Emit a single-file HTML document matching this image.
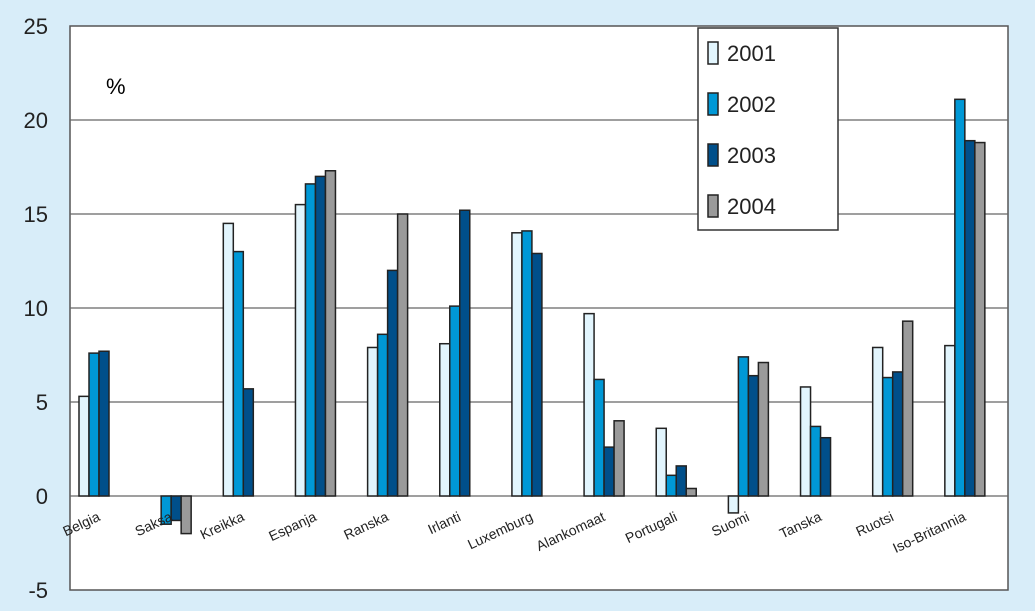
<!DOCTYPE html>
<html><head><meta charset="utf-8"><style>
body{margin:0;background:#d8edf9;}
svg{display:block;font-family:"Liberation Sans",Arial,sans-serif;}
</style></head><body>
<svg id="c" width="1035" height="611">
<rect x="0" y="0" width="1035" height="611" fill="#d8edf9"/>
<rect x="70" y="26" width="938" height="564" fill="#fff" stroke="#555" stroke-width="1.5"/>
<g id="grid"></g><g id="bars"></g><g id="labels"></g>
<text x="106" y="94" font-size="22">%</text>
<g>
<rect x="698" y="28" width="140" height="202" fill="#fff" stroke="#333" stroke-width="1.5"/>
<g id="leg"></g>
</g>
</svg>
<script>
const categories=["Belgia","Saksa","Kreikka","Espanja","Ranska","Irlanti","Luxemburg","Alankomaat","Portugali","Suomi","Tanska","Ruotsi","Iso-Britannia"];
const s2001=[5.3,null,14.5,15.5,7.9,8.1,14.0,9.7,3.6,-0.9,5.8,7.9,8.0];
const s2002=[7.6,-1.5,13.0,16.6,8.6,10.1,14.1,6.2,1.1,7.4,3.7,6.3,21.1];
const s2003=[7.7,-1.3,5.7,17.0,12.0,15.2,12.9,2.6,1.6,6.4,3.1,6.6,18.9];
const s2004=[null,-2.0,null,17.3,15.0,null,null,4.0,0.4,7.1,null,9.3,18.8];
const years=["2001","2002","2003","2004"];
const yTicks=[-5,0,5,10,15,20,25];
const colors=["#e2f5fd","#0098d6","#004f8a","#9a9a9a"];
const series=[s2001,s2002,s2003,s2004];
const NS="http://www.w3.org/2000/svg";
const x0=70,x1=1008,yTop=26,yBot=590,vMin=-5,vMax=25;
const y=v=>yBot-(v-vMin)/(vMax-vMin)*(yBot-yTop);
const gw=(x1-x0)/categories.length;
function mk(t,a,p){const e=document.createElementNS(NS,t);for(const k in a)e.setAttribute(k,a[k]);p.appendChild(e);return e;}
const grid=document.getElementById('grid');
yTicks.forEach(v=>{
 if(v>vMin&&v<vMax){const l=mk('line',{x1:x0,x2:x1,y1:y(v),y2:y(v),stroke:'#666','stroke-width':1.2},grid);
 
 }
 const t=mk('text',{x:48,y:y(v)+8,'font-size':22,'text-anchor':'end',fill:'#222'},grid);
 t.textContent=v;
 
 
});
const bars=document.getElementById('bars');
const bw=10;
categories.forEach((c,i)=>{
 const gx=x0+i*gw+9;
 series.forEach((s,j)=>{
  const v=s[i]; if(v===null) return;
  const top=Math.min(y(v),y(0)),h=Math.abs(y(v)-y(0));
  const r=mk('rect',{x:gx+j*bw,y:top,width:bw,height:h,fill:colors[j],stroke:'#222','stroke-width':1.5},bars);
  
  
 });
 const lx=gx+22,ly=y(0)+24;
 const t=mk('text',{x:lx,y:ly,'font-size':14,'text-anchor':'end',fill:'#222',transform:`rotate(-25 ${lx} ${ly})`},document.getElementById('labels'));
 t.textContent=c;
 
 
});
const leg=document.getElementById('leg');
years.forEach((yr,j)=>{
 const yy=52+j*51;
 const r=mk('rect',{x:708,y:yy-10,width:10,height:22,fill:colors[j],stroke:'#222','stroke-width':1.5},leg);
 
 
 const t=mk('text',{x:727,y:yy+9,'font-size':22,fill:'#222'},leg);
 t.textContent=yr;
 
 
});
</script>
</body></html>
